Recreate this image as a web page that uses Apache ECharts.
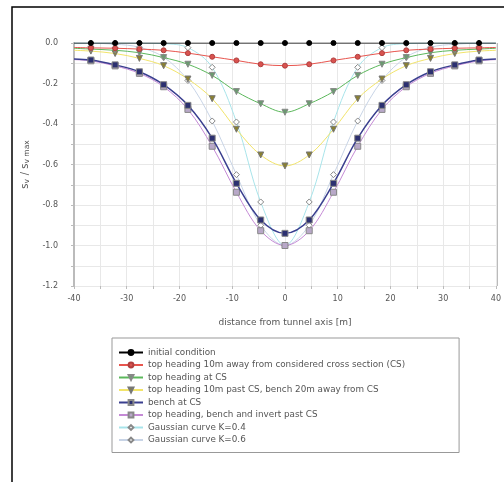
<!DOCTYPE html>
<html>
<head>
<meta charset="utf-8">
<script src="https://cdn.jsdelivr.net/npm/echarts@6/dist/echarts.min.js"></script>
<style>
  html, body { margin: 0; padding: 0; background: #fff; }
  #main { width: 504px; height: 482px; }
</style>
</head>
<body>
<div id="main"></div>
<script>
var xs = [-40, -36.8, -32.2, -27.6, -23, -18.4, -13.8, -9.2, -4.6, 0, 4.6, 9.2, 13.8, 18.4, 23, 27.6, 32.2, 36.8, 40];

var initial = [0, 0, 0, 0, 0, 0, 0, 0, 0, 0, 0, 0, 0, 0, 0, 0, 0, 0, 0];
var heading10 = [-0.022, -0.024, -0.026, -0.03, -0.036, -0.05, -0.068, -0.086, -0.105, -0.112, -0.105, -0.086, -0.068, -0.05, -0.036, -0.03, -0.026, -0.024, -0.022];
var headingCS = [-0.026, -0.03, -0.036, -0.048, -0.072, -0.105, -0.16, -0.24, -0.30, -0.342, -0.30, -0.24, -0.16, -0.105, -0.072, -0.048, -0.036, -0.03, -0.026];
var heading10bench20 = [-0.036, -0.04, -0.052, -0.076, -0.112, -0.178, -0.275, -0.426, -0.553, -0.607, -0.553, -0.426, -0.275, -0.178, -0.112, -0.076, -0.052, -0.04, -0.036];
var benchCS = [-0.079, -0.084, -0.108, -0.142, -0.206, -0.308, -0.47, -0.693, -0.874, -0.94, -0.874, -0.693, -0.47, -0.308, -0.206, -0.142, -0.108, -0.084, -0.079];
var invertPast = [-0.082, -0.088, -0.113, -0.15, -0.216, -0.328, -0.51, -0.737, -0.927, -1.0, -0.927, -0.737, -0.51, -0.328, -0.216, -0.15, -0.113, -0.088, -0.082];
var gaussK04 = [0, 0, 0, 0, -0.003, -0.023, -0.12, -0.39, -0.785, -1.0, -0.785, -0.39, -0.12, -0.023, -0.003, 0, 0, 0, 0];
var gaussK06 = [0, -0.001, -0.006, -0.021, -0.07, -0.185, -0.385, -0.65, -0.9, -1.0, -0.9, -0.65, -0.385, -0.185, -0.07, -0.021, -0.006, -0.001, 0];

var names = [
  'initial condition',
  'top heading 10m away from considered cross section (CS)',
  'top heading at CS',
  'top heading 10m past CS, bench 20m away from CS',
  'bench at CS',
  'top heading, bench and invert past CS',
  'Gaussian curve K=0.4',
  'Gaussian curve K=0.6'
];

// curve ends at +-40 carry no marker
function pts(ys) {
  return xs.map(function (x, i) {
    var d = { value: [x, ys[i]] };
    if (i === 0 || i === xs.length - 1) d.symbol = 'none';
    return d;
  });
}

function line(name, ys, color, sym, symColor, symBorder, rot, width, z) {
  return {
    name: name,
    type: 'line',
    smooth: 0.35,
    data: pts(ys),
    symbol: sym,
    symbolSize: sym === 'circle' ? 5 : 6,
    symbolRotate: rot || 0,
    z: z,
    lineStyle: { color: color, width: width || 1 },
    itemStyle: { color: symColor, borderColor: symBorder, borderWidth: 1 }
  };
}

var font = 'DejaVu Sans, sans-serif';
var myChart = echarts.init(document.getElementById('main'));
var opt = {
  animation: false,
  backgroundColor: '#fff',
  textStyle: { fontFamily: font },
  grid: { left: 74, right: 7, top: 43, bottom: 196, show: false },
  xAxis: {
    type: 'value',
    min: -40, max: 40, interval: 5,
    name: 'distance from tunnel axis [m]',
    nameLocation: 'middle',
    nameGap: 32,
    nameTextStyle: { fontSize: 9, color: '#555', fontFamily: font },
    axisLine: { show: false, onZero: false },
    axisTick: { show: true, length: 3, lineStyle: { color: '#bbb' } },
    axisLabel: {
      fontSize: 8, color: '#555', margin: 9, fontFamily: font,
      formatter: function (v) { return v % 10 === 0 ? String(v) : ''; }
    },
    splitLine: { show: true, lineStyle: { color: '#e8e8e8', width: 1 } }
  },
  yAxis: {
    type: 'value',
    min: -1.2, max: 0, interval: 0.1,
    name: '{s|s}{sub|v} {s|/ s}{sub|v max}',
    nameLocation: 'middle',
    nameRotate: 90,
    nameGap: 40,
    nameTextStyle: {
      rich: {
        s: { fontSize: 10, color: '#555', fontFamily: font },
        sub: { fontSize: 7.5, color: '#555', fontFamily: font, verticalAlign: 'bottom', padding: [5, 0, 0, 0] }
      }
    },
    axisLine: { show: true, onZero: false, lineStyle: { color: '#bbb', width: 2 } },
    axisTick: { show: true, length: 3, lineStyle: { color: '#bbb' } },
    axisLabel: {
      fontSize: 8, color: '#555', margin: 16, fontFamily: font,
      formatter: function (v) { return Math.round(v * 10) % 2 === 0 ? v.toFixed(1) : ''; }
    },
    splitLine: { show: true, lineStyle: { color: '#e8e8e8', width: 1 } }
  },
  legend: {
    orient: 'vertical',
    left: 112,
    top: 338,
    itemWidth: 24,
    itemHeight: 6,
    itemGap: 3.5,
    padding: [10, 54, 8, 6],
    borderColor: '#999',
    borderWidth: 1,
    textStyle: { fontSize: 8.8, color: '#555', fontFamily: font },
    data: names
  },
  graphic: [
    {
      type: 'rect',
      shape: { x: 12, y: 7, width: 520, height: 500 },
      style: { fill: 'none', stroke: '#000', lineWidth: 1.5 },
      silent: true
    },
    {
      type: 'line',
      shape: { x1: 497, y1: 43, x2: 497, y2: 286 },
      style: { stroke: '#bbb', lineWidth: 2 },
      silent: true
    }
  ],
  series: [
    line(names[0], initial, '#000', 'circle', '#000', '#000', 0, 1.2, 10),
    line(names[1], heading10, '#e8554e', 'circle', '#d9534f', '#b04040', 0, 1, 9),
    line(names[2], headingCS, '#5cb85c', 'triangle', '#6a9a70', '#888', 180, 1, 8),
    line(names[3], heading10bench20, '#f2e46a', 'triangle', '#8a8030', '#777', 180, 1, 7),
    line(names[4], benchCS, '#3a3f8f', 'rect', '#2c3070', '#888', 0, 1.5, 6),
    line(names[5], invertPast, '#c58ad6', 'rect', '#b8a8c8', '#888', 0, 1, 5),
    line(names[6], gaussK04, '#a8e4ea', 'diamond', '#fff', '#888', 0, 1, 4),
    line(names[7], gaussK06, '#c8d4e6', 'diamond', '#fff', '#888', 0, 1, 3)
  ]
};
myChart.setOption(opt);
</script>
</body>
</html>
